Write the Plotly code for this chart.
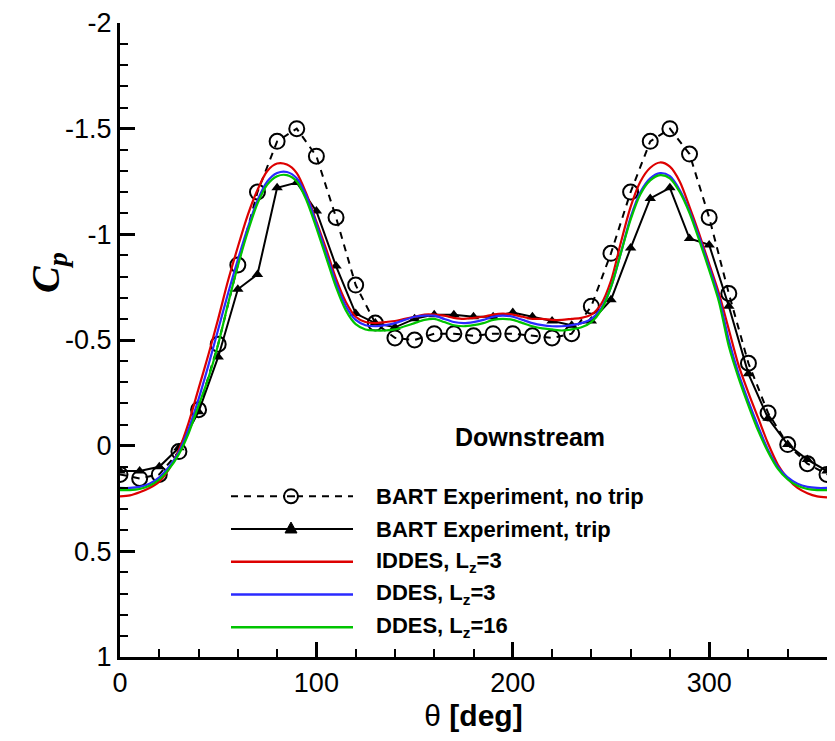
import plotly.graph_objects as go

# ---------------- data ----------------
theta_exp = list(range(0, 361, 10))
cp_notrip = [0.136, 0.155, 0.136, 0.028, -0.17, -0.48, -0.855, -1.20, -1.44, -1.50,
             -1.37, -1.08, -0.76, -0.58, -0.51, -0.50, -0.53, -0.53, -0.52, -0.53,
             -0.53, -0.52, -0.51, -0.53, -0.66, -0.91, -1.20, -1.44, -1.50, -1.38,
             -1.08, -0.72, -0.39, -0.155, -0.005, 0.085, 0.136]
cp_trip = [0.12, 0.12, 0.10, 0.01, -0.16, -0.42, -0.74, -0.81, -1.22, -1.245,
           -1.11, -0.85, -0.625, -0.58, -0.56, -0.60, -0.62, -0.62, -0.61, -0.61,
           -0.63, -0.61, -0.59, -0.57, -0.59, -0.69, -0.935, -1.17, -1.22, -0.98,
           -0.95, -0.66, -0.34, -0.13, -0.005, 0.066, 0.12]

theta_cfd = list(range(0, 361, 5))
cp_iddes = [0.24, 0.235, 0.22, 0.20, 0.17, 0.11, 0.02, -0.11, -0.27, -0.43,
            -0.60, -0.78, -0.94, -1.09, -1.21, -1.30, -1.335, -1.33, -1.29, -1.19,
            -1.06, -0.93, -0.79, -0.68, -0.61, -0.585, -0.58, -0.585, -0.59, -0.60,
            -0.61, -0.62, -0.62, -0.615, -0.605, -0.60, -0.605, -0.61, -0.62, -0.625,
            -0.62, -0.61, -0.60, -0.60, -0.595, -0.595, -0.60, -0.605, -0.62, -0.67,
            -0.78, -0.96, -1.13, -1.25, -1.315, -1.34, -1.32, -1.25, -1.13, -1.00,
            -0.86, -0.72, -0.55, -0.38, -0.25, -0.13, -0.01, 0.09, 0.155, 0.20,
            0.225, 0.24, 0.245]
cp_ddes3 = [0.20, 0.20, 0.195, 0.18, 0.15, 0.10, 0.03, -0.08, -0.22, -0.38,
            -0.55, -0.72, -0.88, -1.03, -1.16, -1.25, -1.29, -1.295, -1.265, -1.18,
            -1.05, -0.91, -0.77, -0.66, -0.595, -0.57, -0.565, -0.57, -0.58, -0.595,
            -0.61, -0.615, -0.615, -0.60, -0.585, -0.58, -0.585, -0.595, -0.61, -0.615,
            -0.61, -0.595, -0.58, -0.57, -0.565, -0.565, -0.57, -0.58, -0.60, -0.65,
            -0.75, -0.91, -1.08, -1.20, -1.265, -1.29, -1.275, -1.21, -1.11, -0.985,
            -0.845, -0.70, -0.50, -0.34, -0.21, -0.09, 0.02, 0.10, 0.15, 0.18,
            0.195, 0.20, 0.20]
cp_ddes16 = [0.21, 0.21, 0.205, 0.19, 0.16, 0.11, 0.04, -0.06, -0.19, -0.32,
             -0.48, -0.67, -0.85, -1.01, -1.145, -1.235, -1.275, -1.28, -1.25, -1.16,
             -1.03, -0.89, -0.75, -0.64, -0.575, -0.55, -0.545, -0.545, -0.55, -0.565,
             -0.58, -0.595, -0.60, -0.585, -0.57, -0.565, -0.57, -0.58, -0.595, -0.60,
             -0.595, -0.58, -0.565, -0.555, -0.55, -0.545, -0.55, -0.56, -0.585, -0.64,
             -0.75, -0.91, -1.07, -1.19, -1.255, -1.28, -1.265, -1.20, -1.10, -0.97,
             -0.83, -0.68, -0.47, -0.32, -0.19, -0.07, 0.03, 0.11, 0.16, 0.19,
             0.205, 0.21, 0.21]

x_tickvals = [0, 100, 200, 300]
x_ticktext = ["0", "100", "200", "300"]
y_tickvals = [-2, -1.5, -1, -0.5, 0, 0.5, 1]
y_ticktext = ["-2", "-1.5", "-1", "-0.5", "0", "0.5", "1"]

legend_labels = ["BART Experiment, no trip", "BART Experiment, trip",
                 "IDDES, L<sub>z</sub>=3", "DDES, L<sub>z</sub>=3", "DDES, L<sub>z</sub>=16"]

RED, BLUE, GREEN = "#dd0000", "#2a2aff", "#00c400"

# ---------------- layout geometry (pixels) ----------------
W, H = 835, 741
L, R, T, B = 120, 8, 18, 84
PW, PH = W - L - R, H - T - B


def px(x):
    return (x - L) / PW


def py(y):
    return (H - B - y) / PH


fig = go.Figure()

fig.add_trace(go.Scatter(x=theta_exp, y=cp_notrip, mode="lines+markers",
                         line=dict(color="black", width=2, dash="7px,6px"),
                         marker=dict(symbol="circle-open", size=15, color="black",
                                     line=dict(width=2, color="black")),
                         showlegend=False))
fig.add_trace(go.Scatter(x=theta_exp, y=cp_trip, mode="lines+markers",
                         line=dict(color="black", width=2),
                         marker=dict(symbol="triangle-up", size=10, color="black"),
                         showlegend=False))
for ys, col in [(cp_iddes, RED), (cp_ddes3, BLUE), (cp_ddes16, GREEN)]:
    fig.add_trace(go.Scatter(x=theta_cfd, y=ys, mode="lines",
                             line=dict(color=col, width=2.2, shape="spline", smoothing=0.8),
                             showlegend=False))

# ---------------- manual legend ----------------
shapes = []
annotations = []
rows = [495, 528, 561, 594, 627]
x0, x1, xm, xt = 231, 353, 291, 374
styles = [("black", "dash"), ("black", "solid"), (RED, "solid"), (BLUE, "solid"), (GREEN, "solid")]
for (col, dash), yrow, lab in zip(styles, rows, legend_labels):
    shapes.append(dict(type="line", xref="paper", yref="paper",
                       x0=px(x0), x1=px(x1), y0=py(yrow), y1=py(yrow),
                       line=dict(color=col, width=2.5 if col != "black" else 2,
                                 dash="7px,6px" if dash == "dash" else "solid")))
    annotations.append(dict(xref="paper", yref="paper", x=px(xt), y=py(yrow),
                            xanchor="left", yanchor="middle", showarrow=False,
                            text="<b>" + lab + "</b>",
                            font=dict(family="Arial, Liberation Sans", size=22, color="black")))
# legend symbols
r = 7
shapes.append(dict(type="circle", xref="paper", yref="paper",
                   x0=px(xm - r), x1=px(xm + r), y0=py(rows[0] - r), y1=py(rows[0] + r),
                   fillcolor="white", line=dict(color="black", width=2)))
shapes.append(dict(type="line", xref="paper", yref="paper",
                   x0=px(xm - 4), x1=px(xm + 4), y0=py(rows[0]), y1=py(rows[0]),
                   line=dict(color="black", width=2)))
tri = "M {},{} L {},{} L {},{} Z".format(px(xm - 6), py(rows[1] + 4), px(xm + 6), py(rows[1] + 4),
                                         px(xm), py(rows[1] - 7))
shapes.append(dict(type="path", xref="paper", yref="paper", path=tri,
                   fillcolor="black", line=dict(color="black", width=1)))

annotations.append(dict(xref="paper", yref="paper", x=px(530), y=py(435),
                        xanchor="center", yanchor="middle", showarrow=False,
                        text="<b>Downstream</b>",
                        font=dict(family="Arial, Liberation Sans", size=25, color="black")))
annotations.append(dict(xref="paper", yref="paper", x=px(48), y=py(270),
                        xanchor="center", yanchor="middle", showarrow=False, textangle=-90,
                        text="<b><i>C<sub>p</sub></i></b>",
                        font=dict(family="Liberation Serif, Times New Roman", size=40, color="black")))

axis_common = dict(showgrid=False, zeroline=False, showline=True, linecolor="black",
                   linewidth=3, ticks="inside", tickcolor="black", tickwidth=2.5,
                   ticklen=15, mirror=False,
                   tickfont=dict(family="Arial, Liberation Sans", size=27, color="black"))

fig.update_layout(
    width=W, height=H, paper_bgcolor="white", plot_bgcolor="white",
    margin=dict(l=L, r=R, t=T, b=B),
    showlegend=False,
    xaxis=dict(range=[0, 360], tickmode="array", tickvals=x_tickvals, ticktext=x_ticktext,
               minor=dict(dtick=20, ticks="inside", ticklen=8, tickwidth=1.5, tickcolor="black"),
               title=dict(text="\u03b8 <b>[deg]</b>", standoff=8,
                          font=dict(family="Arial, Liberation Sans", size=30, color="black")),
               **axis_common),
    yaxis=dict(range=[1, -2], tickmode="array", tickvals=y_tickvals, ticktext=y_ticktext,
               minor=dict(dtick=0.1, ticks="inside", ticklen=8, tickwidth=1.5, tickcolor="black"),
               **axis_common),
    shapes=shapes, annotations=annotations,
)

fig.write_html("out.html")
